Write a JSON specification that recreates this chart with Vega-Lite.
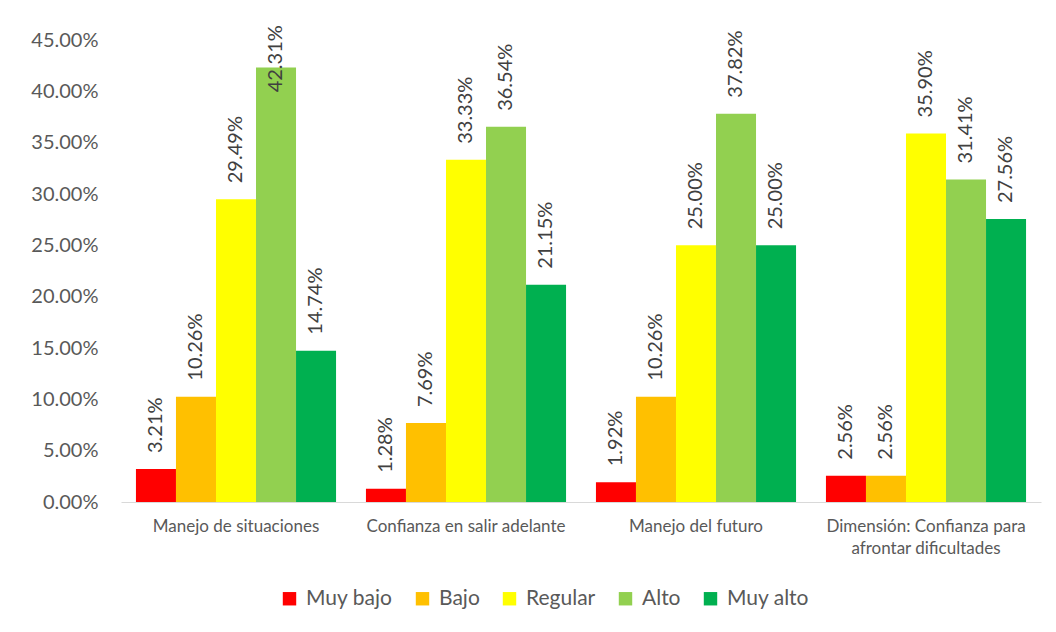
{
  "$schema": "https://vega.github.io/schema/vega-lite/v6.json",
  "width": 920,
  "height": 462,
  "autosize": {"type": "none"},
  "padding": {"left": 121, "top": 40, "right": 15, "bottom": 130},
  "background": "white",
  "config": {"view": {"stroke": null}, "font": "Lato"},
  "data": {
    "values": [
      {"cat": "Manejo de situaciones", "nivel": "Muy bajo", "value": 0.0321},
      {"cat": "Manejo de situaciones", "nivel": "Bajo", "value": 0.1026},
      {"cat": "Manejo de situaciones", "nivel": "Regular", "value": 0.2949},
      {"cat": "Manejo de situaciones", "nivel": "Alto", "value": 0.4231},
      {"cat": "Manejo de situaciones", "nivel": "Muy alto", "value": 0.1474},
      {"cat": "Confianza en salir adelante", "nivel": "Muy bajo", "value": 0.0128},
      {"cat": "Confianza en salir adelante", "nivel": "Bajo", "value": 0.0769},
      {"cat": "Confianza en salir adelante", "nivel": "Regular", "value": 0.3333},
      {"cat": "Confianza en salir adelante", "nivel": "Alto", "value": 0.3654},
      {"cat": "Confianza en salir adelante", "nivel": "Muy alto", "value": 0.2115},
      {"cat": "Manejo del futuro", "nivel": "Muy bajo", "value": 0.0192},
      {"cat": "Manejo del futuro", "nivel": "Bajo", "value": 0.1026},
      {"cat": "Manejo del futuro", "nivel": "Regular", "value": 0.25},
      {"cat": "Manejo del futuro", "nivel": "Alto", "value": 0.3782},
      {"cat": "Manejo del futuro", "nivel": "Muy alto", "value": 0.25},
      {"cat": "Dimensión: Confianza para afrontar dificultades", "nivel": "Muy bajo", "value": 0.0256},
      {"cat": "Dimensión: Confianza para afrontar dificultades", "nivel": "Bajo", "value": 0.0256},
      {"cat": "Dimensión: Confianza para afrontar dificultades", "nivel": "Regular", "value": 0.359},
      {"cat": "Dimensión: Confianza para afrontar dificultades", "nivel": "Alto", "value": 0.3141},
      {"cat": "Dimensión: Confianza para afrontar dificultades", "nivel": "Muy alto", "value": 0.2756}
    ]
  },
  "encoding": {
    "x": {
      "field": "cat", "type": "nominal", "sort": null, "title": null,
      "scale": {"paddingInner": 0.13, "paddingOuter": 0.065},
      "axis": {
        "labelAngle": 0, "ticks": false, "domainColor": "#d9d9d9", "domainWidth": 1,
        "labelColor": "#595959", "labelFontSize": 17, "labelPadding": 16, "labelLimit": 0,
        "labelLineHeight": 22,
        "labelExpr": "datum.value == 'Dimensión: Confianza para afrontar dificultades' ? ['Dimensión: Confianza para', 'afrontar dificultades'] : datum.value"
      }
    },
    "xOffset": {
      "field": "nivel", "type": "nominal",
      "sort": ["Muy bajo", "Bajo", "Regular", "Alto", "Muy alto"],
      "scale": {"paddingInner": 0, "paddingOuter": 0}
    }
  },
  "layer": [
    {
      "mark": {"type": "bar"},
      "encoding": {
        "y": {
          "field": "value", "type": "quantitative", "title": null,
          "scale": {"domain": [0, 0.45]},
          "axis": {
            "format": ".2%", "values": [0, 0.05, 0.1, 0.15, 0.2, 0.25, 0.3, 0.35, 0.4, 0.45],
            "grid": false, "domain": false, "ticks": false,
            "labelColor": "#595959", "labelFontSize": 20, "labelPadding": 23
          }
        },
        "color": {
          "field": "nivel", "type": "nominal", "title": null,
          "sort": ["Muy bajo", "Bajo", "Regular", "Alto", "Muy alto"],
          "scale": {
            "domain": ["Muy bajo", "Bajo", "Regular", "Alto", "Muy alto"],
            "range": ["#FF0000", "#FFC000", "#FFFF00", "#92D050", "#00B050"]
          },
          "legend": {
            "orient": "none", "direction": "horizontal", "legendX": 158, "legendY": 548,
            "symbolType": "square", "symbolSize": 180, "symbolStrokeWidth": 0,
            "labelFontSize": 21, "labelColor": "#595959", "columnPadding": 19, "labelOffset": 6
          }
        }
      }
    },
    {
      "transform": [{"filter": "datum.value < 0.4"}],
      "mark": {"type": "text", "angle": 270, "align": "left", "baseline": "middle", "dx": 16, "fontSize": 20, "color": "#404040"},
      "encoding": {
        "y": {"field": "value", "type": "quantitative"},
        "text": {"field": "value", "type": "quantitative", "format": ".2%"}
      }
    },
    {
      "transform": [{"filter": "datum.value >= 0.4"}],
      "mark": {"type": "text", "angle": 270, "align": "left", "baseline": "middle", "dx": 0, "fontSize": 20, "color": "#404040"},
      "encoding": {
        "y": {"datum": 0.399},
        "text": {"field": "value", "type": "quantitative", "format": ".2%"}
      }
    }
  ]
}
